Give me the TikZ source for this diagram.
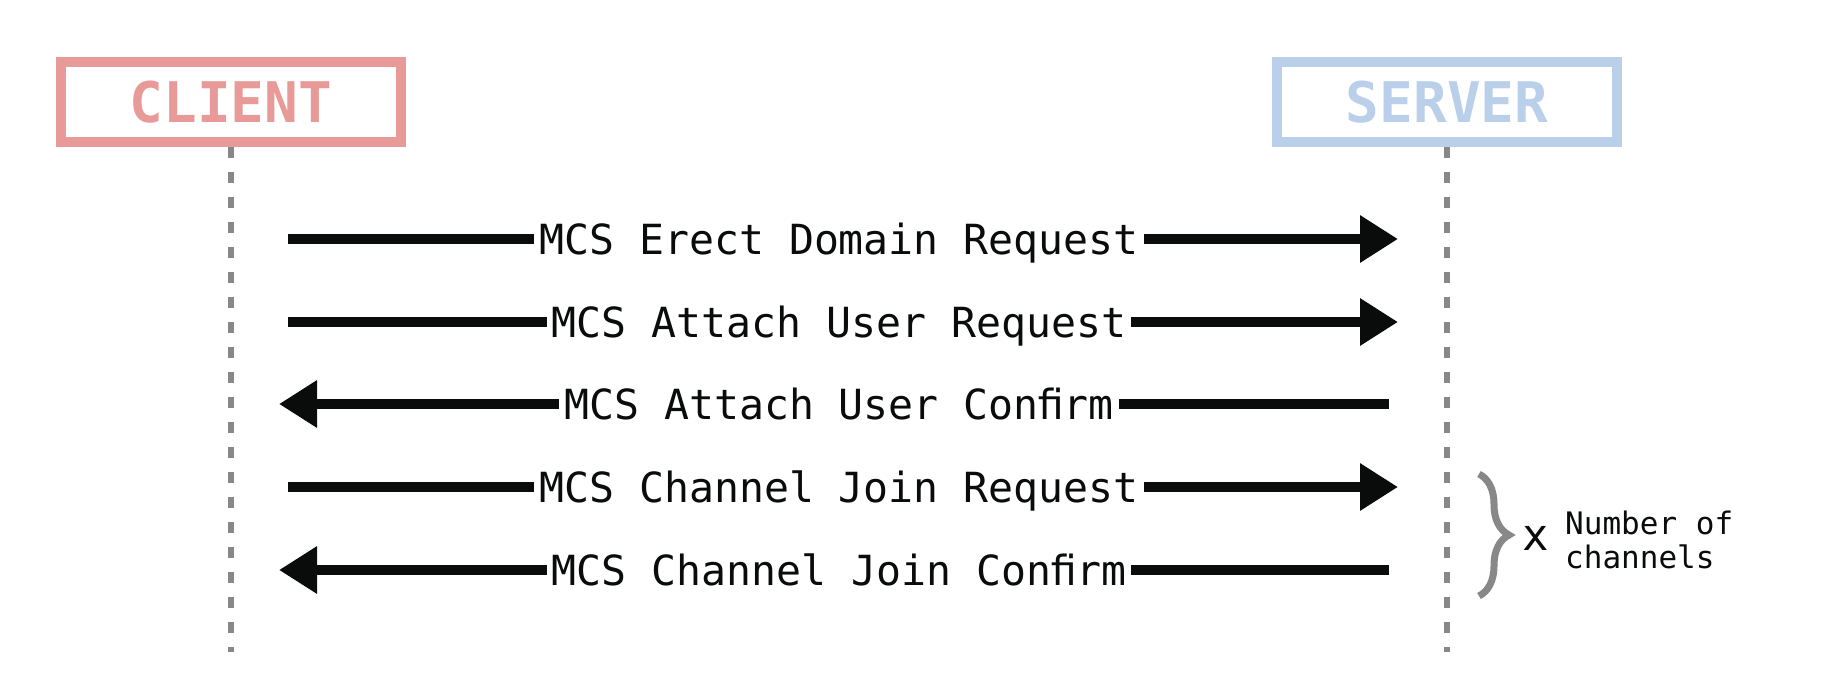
\documentclass[tikz,border=0pt]{standalone}
\usepackage{fontspec}
\usetikzlibrary{arrows.meta,decorations.pathreplacing}
\newfontfamily\dvm{DejaVu Sans Mono}
\definecolor{clientred}{RGB}{232,154,152}
\definecolor{serverblue}{RGB}{186,208,234}
\definecolor{lifegray}{RGB}{136,136,136}
\definecolor{arrowblack}{RGB}{10,12,12}
\tikzset{
  actor/.style={draw, line width=9.5pt, minimum width=340pt, minimum height=80pt, inner sep=0pt,
    font=\dvm\bfseries\fontsize{56}{60}\selectfont, text height=41pt, text depth=0pt},
  lifeline/.style={draw=lifegray, line width=6.5pt, dash pattern=on 11pt off 14pt},
  msglabel/.style={font=\dvm\fontsize{41.5}{45}\selectfont, text=arrowblack, inner xsep=5pt, inner ysep=0pt,
    text height=30pt, text depth=0pt, outer sep=0pt},
  msgline/.style={draw=arrowblack, line width=10pt},
  msgarrow/.style={msgline, -{Triangle[length=38pt, width=45pt]}},
  bracestyle/.style={draw=lifegray, line width=7pt, decorate, decoration={brace, amplitude=30pt}},
}
\begin{document}
\begin{tikzpicture}[x=1pt,y=-1pt]
\useasboundingbox (0,0) rectangle (1822,698);
% actors
\node[actor, draw=clientred, text=clientred] (client) at (231,102) {CLIENT};
\node[actor, draw=serverblue, text=serverblue] (server) at (1447,102) {SERVER};
% lifeline ends
\coordinate (cend) at (231,652);
\coordinate (send) at (1447,652);
\draw[lifeline] (client.south) -- (cend);
\draw[lifeline] (server.south) -- (send);
% message endpoints
\coordinate (c1) at (288,239);  \coordinate (s1) at (1398,239);
\coordinate (c2) at (288,322);  \coordinate (s2) at (1398,322);
\coordinate (s3) at (1389,404); \coordinate (c3) at (279,404);
\coordinate (c4) at (288,487);  \coordinate (s4) at (1398,487);
\coordinate (s5) at (1389,570); \coordinate (c5) at (279,570);
% labels
\node[msglabel] (m1) at (839,239) {MCS Erect Domain Request};
\node[msglabel] (m2) at (839,322) {MCS Attach User Request};
\node[msglabel] (m3) at (839,404) {MCS Attach User Conﬁrm};
\node[msglabel] (m4) at (839,487) {MCS Channel Join Request};
\node[msglabel] (m5) at (839,570) {MCS Channel Join Conﬁrm};
% messages
\draw[msgline] (c1) -- (m1.west); \draw[msgarrow] (m1.east) -- (s1);
\draw[msgline] (c2) -- (m2.west); \draw[msgarrow] (m2.east) -- (s2);
\draw[msgline] (s3) -- (m3.east); \draw[msgarrow] (m3.west) -- (c3);
\draw[msgline] (c4) -- (m4.west); \draw[msgarrow] (m4.east) -- (s4);
\draw[msgline] (s5) -- (m5.east); \draw[msgarrow] (m5.west) -- (c5);
% repetition brace
\coordinate (btop) at (1479,474);
\coordinate (bbot) at (1479,596);
\draw[bracestyle] (btop) -- (bbot);
\node[font=\dvm\fontsize{44}{48}\selectfont, text=arrowblack, inner sep=0pt] (times) at (1536,538) {x};
\node[font=\dvm\fontsize{31}{34}\selectfont, text=arrowblack, inner sep=0pt, align=left, anchor=west] (count) at (1565,540) {Number of\\channels};
\end{tikzpicture}
\end{document}
